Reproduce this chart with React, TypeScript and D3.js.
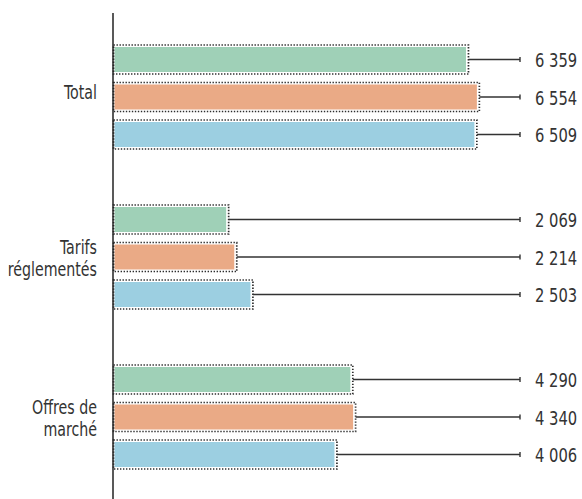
import React from "react";
import * as d3 from "d3";

const categories = ["Total", "Tarifs réglementés", "Offres de marché"];
const categoryLines = [["Total"], ["Tarifs", "réglementés"], ["Offres de", "marché"]];
const seriesKeys = ["s1", "s2", "s3"];
const seriesColors = ["#9fd0b7", "#eaaa86", "#9ccfe1"];
const values: number[][] = [
  [6359, 6554, 6509],
  [2069, 2214, 2503],
  [4290, 4340, 4006],
];

const W = 582;
const H = 499;
const axisX = 113;
const fontFamily = "'DejaVu Sans Condensed', 'DejaVu Sans', sans-serif";

const fmt = (v: number) => d3.format(",")(v).replace(/,/g, " ");

export default function App() {
  const x = d3.scaleLinear().domain([0, 7000]).range([axisX, axisX + 7000 * 0.0559]);
  const yGroup = d3.scaleBand<string>().domain(categories).range([17, 497]).padding(0);
  const yInner = d3
    .scaleBand<string>()
    .domain(seriesKeys)
    .range([28, 132])
    .paddingInner(0.227)
    .paddingOuter(0);
  const leaderEnd = 520;
  const labelX = 535;

  return (
    <svg
      width={W}
      height={H}
      style={{ position: "absolute", left: 0, top: 0, background: "#fff" }}
      fontFamily={fontFamily}
    >
      <rect x={0} y={0} width={W} height={H} fill="#fff" />
      {categories.map((cat, ci) => {
        const g0 = yGroup(cat)!;
        const center = g0 + 80;
        const lines = categoryLines[ci];
        const baselines =
          lines.length === 1 ? [center + 2] : [center - 3, center + 19];
        return (
          <g key={cat}>
            {lines.map((ln, li) => (
              <g key={li} transform={`translate(97,${baselines[li]}) scale(0.79,1)`}>
                <text x={0} y={0} textAnchor="end" fontSize={20} fill="#333">
                  {ln}
                </text>
              </g>
            ))}
            {seriesKeys.map((sk, si) => {
              const v = values[ci][si];
              const y0 = g0 + yInner(sk)!;
              const bh = yInner.bandwidth();
              const xr = x(v);
              const cy = y0 + bh / 2;
              return (
                <g key={sk}>
                  <rect
                    x={axisX + 1.5}
                    y={y0 + 2}
                    width={xr - axisX - 4}
                    height={bh - 4}
                    fill={seriesColors[si]}
                  />
                  <rect
                    x={axisX + 0.5}
                    y={y0}
                    width={xr - axisX - 0.5}
                    height={bh}
                    fill="none"
                    stroke="#2e2e2e"
                    strokeWidth={1.7}
                    strokeDasharray="1.4 1.6"
                  />
                  <line x1={xr} x2={leaderEnd} y1={cy} y2={cy} stroke="#333" strokeWidth={1.4} />
                  <line
                    x1={leaderEnd}
                    x2={leaderEnd}
                    y1={cy - 2.5}
                    y2={cy + 2.5}
                    stroke="#333"
                    strokeWidth={1.4}
                  />
                  <g transform={`translate(${labelX},${cy + 7.5}) scale(0.82,1)`}>
                    <text x={0} y={0} fontSize={20} fill="#333">
                      {fmt(v)}
                    </text>
                  </g>
                </g>
              );
            })}
          </g>
        );
      })}
      <line x1={axisX} x2={axisX} y1={13} y2={H} stroke="#222" strokeWidth={1.5} />
    </svg>
  );
}
